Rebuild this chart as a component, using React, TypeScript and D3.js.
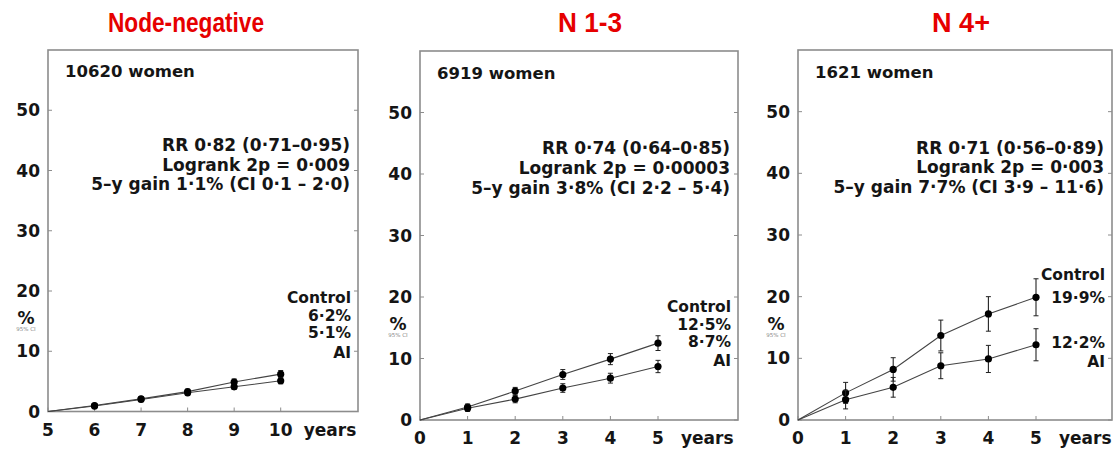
import React from "react";
import * as d3 from "d3";

// ---------- data ----------
const titles = ["Node-negative", "N 1-3", "N 4+"];
const womenLabels = ["10620 women", "6919 women", "1621 women"];

const years1 = [5, 6, 7, 8, 9, 10];
const control1 = [0, 1.0, 2.1, 3.3, 4.9, 6.2];
const ai1 = [0, 0.9, 2.0, 3.1, 4.1, 5.1];
const controlErr1 = [0, 0.3, 0.3, 0.4, 0.5, 0.6];
const aiErr1 = [0, 0.3, 0.3, 0.4, 0.4, 0.5];

const years2 = [0, 1, 2, 3, 4, 5];
const control2 = [0, 2.1, 4.7, 7.4, 9.9, 12.5];
const ai2 = [0, 1.9, 3.4, 5.2, 6.8, 8.7];
const controlErr2 = [0, 0.5, 0.6, 0.8, 0.9, 1.2];
const aiErr2 = [0, 0.5, 0.6, 0.7, 0.8, 1.0];

const years3 = [0, 1, 2, 3, 4, 5];
const control3 = [0, 4.4, 8.2, 13.7, 17.2, 19.9];
const ai3 = [0, 3.3, 5.3, 8.8, 9.9, 12.2];
const controlErr3 = [0, 1.7, 1.9, 2.5, 2.8, 3.0];
const aiErr3 = [0, 1.5, 1.6, 2.1, 2.2, 2.6];

const yTicks = [0, 10, 20, 30, 40, 50];

const stats1 = ["RR 0·82 (0·71–0·95)", "Logrank 2p = 0·009", "5–y gain 1·1% (CI 0·1 – 2·0)"];
const stats2 = ["RR 0·74 (0·64–0·85)", "Logrank 2p = 0·00003", "5–y gain 3·8% (CI 2·2 – 5·4)"];
const stats3 = ["RR 0·71 (0·56–0·89)", "Logrank 2p = 0·003", "5–y gain 7·7% (CI 3·9 – 11·6)"];

const endLabels1 = ["Control", "6·2%", "5·1%", "AI"];
const endLabels2 = ["Control", "12·5%", "8·7%", "AI"];
const endLabels3 = ["Control", "19·9%", "12·2%", "AI"];

// ---------- layout ----------
const layouts = [
  { left: 48, xLast: 280.7, right: 358, top: 50, bottom: 411.5, titleX: 186, titleW: 156, endY: [18.0, 15.0, 12.2, 8.8] },
  { left: 420, xLast: 658, right: 738, top: 51, bottom: 420, titleX: 590, titleW: 64, endY: [17.6, 14.6, 11.9, 8.7] },
  { left: 798, xLast: 1036, right: 1112, top: 50, bottom: 420, titleX: 961, titleW: 58, endY: [22.7, 19.0, 11.7, 8.6] },
];

const panels = [
  { years: years1, control: control1, ai: ai1, cErr: controlErr1, aErr: aiErr1, stats: stats1, ends: endLabels1 },
  { years: years2, control: control2, ai: ai2, cErr: controlErr2, aErr: aiErr2, stats: stats2, ends: endLabels2 },
  { years: years3, control: control3, ai: ai3, cErr: controlErr3, aErr: aiErr3, stats: stats3, ends: endLabels3 },
];

const FONT = "'DejaVu Sans', 'Liberation Sans', Arial, sans-serif";
const AXIS = "#8c8c8c";
const INK = "#151515";

function Panel({ p, l, title, women }: any) {
  const x = d3.scaleLinear().domain([p.years[0], p.years[p.years.length - 1]]).range([l.left, l.xLast]);
  const y = d3.scaleLinear().domain([0, 60]).range([l.bottom, l.top]);
  const line = d3
    .line<number>()
    .x((_, i) => x(p.years[i]))
    .y((d) => y(d));
  const series = [
    { vals: p.control, err: p.cErr },
    { vals: p.ai, err: p.aErr },
  ];
  const statY = [43.2, 40.0, 36.8];
  return (
    <g>
      <text
        x={l.titleX}
        y={32}
        textAnchor="middle"
        fill="#e60000"
        fontFamily="'Liberation Sans', Arial, sans-serif"
        fontWeight="bold"
        fontSize={27}
        textLength={l.titleW}
        lengthAdjust="spacingAndGlyphs"
      >
        {title}
      </text>
      <rect x={l.left} y={l.top} width={l.right - l.left} height={l.bottom - l.top} fill="none" stroke={AXIS} strokeWidth={1.6} />
      {yTicks.map((t) => (
        <g key={"y" + t}>
          <line x1={l.left} x2={l.left + 4} y1={y(t)} y2={y(t)} stroke={AXIS} strokeWidth={1} />
          <line x1={l.right} x2={l.right - 4} y1={y(t)} y2={y(t)} stroke={AXIS} strokeWidth={1} />
          <text x={l.left - 8} y={y(t) + 6} textAnchor="end" fontFamily={FONT} fontWeight="bold" fontSize={17} fill={INK}>
            {t}
          </text>
        </g>
      ))}
      {p.years.map((yr: number) => (
        <g key={"x" + yr}>
          <line x1={x(yr)} x2={x(yr)} y1={l.bottom} y2={l.bottom - 4} stroke={AXIS} strokeWidth={1} />
          <text x={x(yr)} y={l.bottom + 24} textAnchor="middle" fontFamily={FONT} fontWeight="bold" fontSize={17} fill={INK}>
            {yr}
          </text>
        </g>
      ))}
      <text x={l.xLast + 23} y={l.bottom + 24} fontFamily={FONT} fontWeight="bold" fontSize={17} fill={INK}>
        years
      </text>
      <text x={l.left - 22} y={y(14.6)} textAnchor="middle" fontFamily={FONT} fontWeight="bold" fontSize={17} fill={INK}>
        %
      </text>
      <text x={l.left - 22} y={y(14.6) + 7} textAnchor="middle" fontFamily={FONT} fontSize={5.5} fill="#888">
        95% CI
      </text>
      <text x={l.left + 17} y={y(55.5)} fontFamily={FONT} fontWeight="bold" fontSize={16.5} fill={INK}>
        {women}
      </text>
      {p.stats.map((s: string, i: number) => (
        <text key={s} x={l.right - 8} y={y(statY[i])} textAnchor="end" fontFamily={FONT} fontWeight="bold" fontSize={17} fill={INK}>
          {s}
        </text>
      ))}
      {p.ends.map((s: string, i: number) => (
        <text key={s + i} x={l.right - 7} y={y(l.endY[i])} textAnchor="end" fontFamily={FONT} fontWeight="bold" fontSize={15.5} fill={INK}>
          {s}
        </text>
      ))}
      {series.map((s, si) => (
        <g key={si}>
          <path d={line(s.vals) || ""} fill="none" stroke="#444" strokeWidth={1.1} />
          {s.vals.map((v: number, i: number) =>
            i === 0 ? null : (
              <g key={i}>
                <line x1={x(p.years[i])} x2={x(p.years[i])} y1={y(v - s.err[i])} y2={y(v + s.err[i])} stroke="#222" strokeWidth={1.1} />
                <line x1={x(p.years[i]) - 2.5} x2={x(p.years[i]) + 2.5} y1={y(v - s.err[i])} y2={y(v - s.err[i])} stroke="#222" strokeWidth={1} />
                <line x1={x(p.years[i]) - 2.5} x2={x(p.years[i]) + 2.5} y1={y(v + s.err[i])} y2={y(v + s.err[i])} stroke="#222" strokeWidth={1} />
                <circle cx={x(p.years[i])} cy={y(v)} r={3.6} fill="#000" />
              </g>
            )
          )}
        </g>
      ))}
    </g>
  );
}

export default function App() {
  return (
    <svg
      width={1117}
      height={449}
      style={{ position: "absolute", left: 0, top: 0, background: "#fff" }}
    >
      <rect x={0} y={0} width={1117} height={449} fill="#fff" />
      {panels.map((p, i) => (
        <Panel key={i} p={p} l={layouts[i]} title={titles[i]} women={womenLabels[i]} />
      ))}
    </svg>
  );
}
